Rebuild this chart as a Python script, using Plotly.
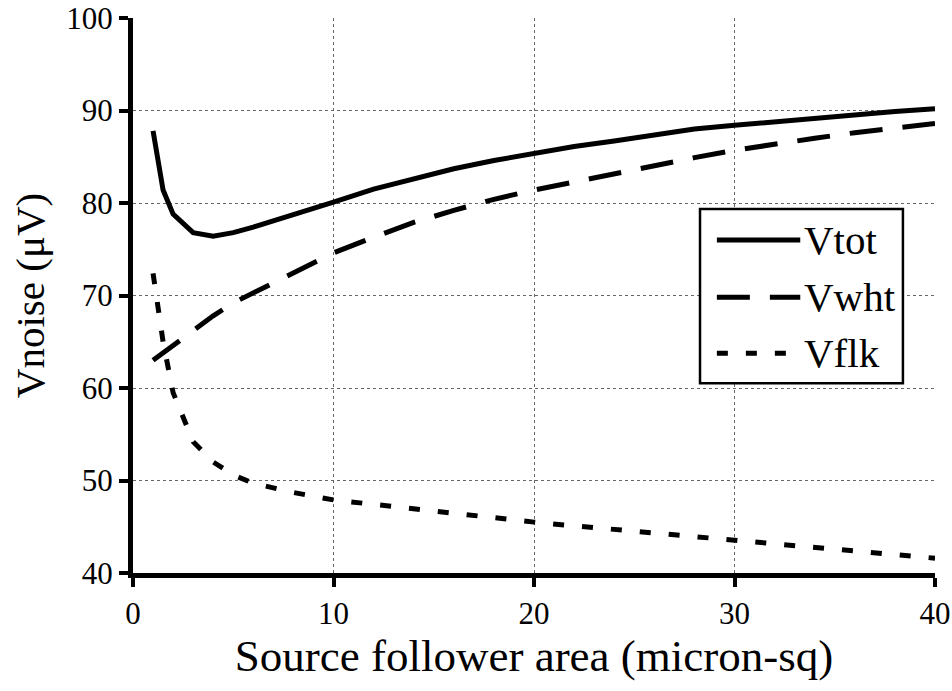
import plotly.graph_objects as go

area = [1, 1.5, 2, 3, 4, 5, 6, 8, 10, 12, 14, 16, 18, 20, 22, 24, 26, 28, 30, 32, 34, 36, 38, 40]
vtot = [87.8, 81.4, 78.8, 76.8, 76.4, 76.8, 77.4, 78.7, 80.1, 81.5, 82.6, 83.7, 84.6, 85.4, 86.1, 86.7, 87.3, 88.0, 88.4, 88.8, 89.1, 89.5, 89.9, 90.2]
vwht = [63.0, 63.8, 64.6, 66.1, 67.8, 69.2, 70.3, 72.5, 74.6, 76.3, 77.9, 79.2, 80.4, 81.4, 82.3, 83.2, 84.1, 84.9, 85.7, 86.4, 87.0, 87.6, 88.1, 88.6]
vflk = [72.4, 65.0, 59.5, 54.2, 52.0, 50.6, 49.7, 48.7, 47.9, 47.4, 46.9, 46.4, 45.9, 45.5, 45.1, 44.7, 44.3, 43.9, 43.6, 43.2, 42.8, 42.4, 42.0, 41.6]
names = ["Vtot", "Vwht", "Vflk"]
dashes = ["solid", "33px,20px", "11px,18px"]

FONT = "Liberation Serif"
fig = go.Figure()
for name, ys, d in zip(names, [vtot, vwht, vflk], dashes):
    fig.add_trace(go.Scatter(x=area, y=ys, mode="lines", name=name,
                             line=dict(color="black", width=5, dash=d),
                             showlegend=False))

# custom legend (box + samples + labels)
lx0, lx1, ly0, ly1 = 0.707, 0.960, 0.342, 0.656
fig.add_shape(type="rect", xref="paper", yref="paper", x0=lx0, x1=lx1, y0=ly0, y1=ly1,
              line=dict(color="black", width=2.5), fillcolor="white", layer="above")
rows = [0.600, 0.497, 0.396]
for name, d, ry in zip(names, dashes, rows):
    fig.add_shape(type="line", xref="paper", yref="paper", x0=0.728, x1=0.832, y0=ry, y1=ry,
                  line=dict(color="black", width=5, dash=d), layer="above")
    fig.add_annotation(xref="paper", yref="paper", x=0.834, y=ry, text=name, showarrow=False,
                       xanchor="left", yanchor="middle", font=dict(family=FONT, size=41, color="black"))

axis_common = dict(showline=True, linecolor="black", linewidth=5, ticks="outside",
                   ticklen=9, tickwidth=4, tickcolor="black", showgrid=True,
                   gridcolor="#666", gridwidth=1, griddash="dot", zeroline=False,
                   automargin=False,
                   tickfont=dict(family=FONT, size=31, color="black"))
fig.update_xaxes(range=[0, 40], tickvals=[0, 10, 20, 30, 40], **axis_common,
                 title=dict(text="Source follower area (micron-sq)",
                            font=dict(family=FONT, size=45, color="black"), standoff=10))
fig.update_yaxes(range=[40, 100], tickvals=[40, 50, 60, 70, 80, 90, 100], **axis_common,
                 title=dict(text="Vnoise (μV)", font=dict(family=FONT, size=41, color="black"), standoff=10))

fig.update_layout(width=952, height=691, margin=dict(l=133, r=17, t=18, b=118),
                  paper_bgcolor="white", plot_bgcolor="white",
                  font=dict(family=FONT, color="black"))
fig.write_html("out.html")
